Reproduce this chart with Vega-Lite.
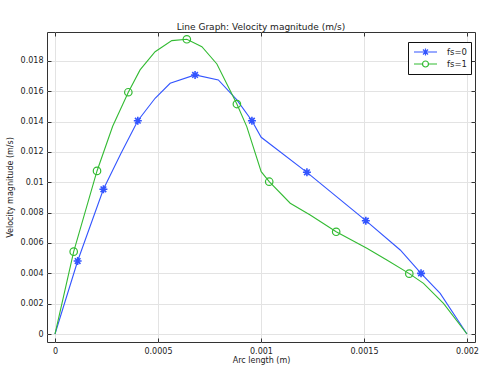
{
  "$schema": "https://vega.github.io/schema/vega-lite/v6.json",
  "width": 428,
  "height": 310,
  "autosize": {"type": "none"},
  "padding": {"left": 47, "top": 32, "right": 9, "bottom": 26},
  "background": "white",
  "title": {"text": "Line Graph: Velocity magnitude (m/s)", "font": "DejaVu Sans", "fontSize": 9, "fontWeight": "normal", "color": "#222", "offset": 0},
  "config": {
    "view": {"stroke": "#333", "strokeWidth": 1},
    "axis": {"labelFont": "DejaVu Sans", "labelFontSize": 8, "labelColor": "#222", "titleFont": "DejaVu Sans", "titleFontSize": 8, "titleFontWeight": "normal", "titleColor": "#222", "domain": false, "tickColor": "#333", "gridColor": "#e3e3e3"},
    "legend": {"title": null, "orient": "none", "legendX": 361, "legendY": 10, "strokeColor": "#111", "fillColor": "white", "padding": 4,
      "labelFont": "DejaVu Sans", "labelFontSize": 8.5, "labelColor": "#222", "symbolOffset": 7.5, "labelOffset": 15.5, "rowPadding": 0}
  },
  "data": {"values": [
    {"s": "fs=0", "x": 0, "y": 0, "m": 0},
    {"s": "fs=0", "x": 0.000110, "y": 0.00481, "m": 1},
    {"s": "fs=0", "x": 0.000235, "y": 0.00954, "m": 1},
    {"s": "fs=0", "x": 0.000320, "y": 0.01190, "m": 0},
    {"s": "fs=0", "x": 0.000402, "y": 0.01406, "m": 1},
    {"s": "fs=0", "x": 0.000486, "y": 0.01554, "m": 0},
    {"s": "fs=0", "x": 0.000559, "y": 0.01653, "m": 0},
    {"s": "fs=0", "x": 0.000680, "y": 0.01708, "m": 1},
    {"s": "fs=0", "x": 0.000793, "y": 0.01675, "m": 0},
    {"s": "fs=0", "x": 0.000883, "y": 0.01543, "m": 0},
    {"s": "fs=0", "x": 0.000956, "y": 0.01406, "m": 1},
    {"s": "fs=0", "x": 0.001001, "y": 0.01297, "m": 0},
    {"s": "fs=0", "x": 0.001223, "y": 0.01066, "m": 1},
    {"s": "fs=0", "x": 0.001509, "y": 0.00747, "m": 1},
    {"s": "fs=0", "x": 0.001676, "y": 0.00554, "m": 0},
    {"s": "fs=0", "x": 0.001777, "y": 0.00400, "m": 1},
    {"s": "fs=0", "x": 0.001870, "y": 0.00268, "m": 0},
    {"s": "fs=0", "x": 0.002, "y": 0, "m": 0},
    {"s": "fs=1", "x": 0, "y": 0, "m": 0},
    {"s": "fs=1", "x": 0.0000908, "y": 0.00543, "m": 1},
    {"s": "fs=1", "x": 0.000204, "y": 0.01075, "m": 1},
    {"s": "fs=1", "x": 0.000280, "y": 0.01370, "m": 0},
    {"s": "fs=1", "x": 0.000356, "y": 0.01594, "m": 1},
    {"s": "fs=1", "x": 0.000413, "y": 0.01741, "m": 0},
    {"s": "fs=1", "x": 0.000486, "y": 0.01861, "m": 0},
    {"s": "fs=1", "x": 0.000567, "y": 0.01934, "m": 0},
    {"s": "fs=1", "x": 0.000640, "y": 0.01943, "m": 1},
    {"s": "fs=1", "x": 0.000713, "y": 0.01894, "m": 0},
    {"s": "fs=1", "x": 0.000786, "y": 0.01780, "m": 0},
    {"s": "fs=1", "x": 0.000883, "y": 0.01516, "m": 1},
    {"s": "fs=1", "x": 0.000931, "y": 0.01367, "m": 0},
    {"s": "fs=1", "x": 0.001001, "y": 0.01070, "m": 0},
    {"s": "fs=1", "x": 0.001040, "y": 0.01004, "m": 1},
    {"s": "fs=1", "x": 0.001142, "y": 0.00862, "m": 0},
    {"s": "fs=1", "x": 0.001239, "y": 0.00785, "m": 0},
    {"s": "fs=1", "x": 0.001365, "y": 0.00674, "m": 1},
    {"s": "fs=1", "x": 0.001514, "y": 0.00565, "m": 0},
    {"s": "fs=1", "x": 0.001611, "y": 0.00488, "m": 0},
    {"s": "fs=1", "x": 0.001720, "y": 0.00398, "m": 1},
    {"s": "fs=1", "x": 0.001789, "y": 0.00334, "m": 0},
    {"s": "fs=1", "x": 0.001886, "y": 0.00202, "m": 0},
    {"s": "fs=1", "x": 0.002, "y": 0, "m": 0}
  ]},
  "resolve": {"axis": {"x": "independent", "y": "independent"}},
  "layer": [
    {
      "mark": {"type": "line", "strokeWidth": 1.1, "clip": true},
      "encoding": {
        "x": {"field": "x", "type": "quantitative", "scale": {"domain": [-0.0000388, 0.002039], "nice": false, "zero": false},
          "axis": {"orient": "bottom", "title": "Arc length (m)", "values": [0, 0.0005, 0.001, 0.0015, 0.002], "format": "~g", "tickSize": -4, "labelPadding": 9, "titlePadding": 1, "grid": true}},
        "y": {"field": "y", "type": "quantitative", "scale": {"domain": [-0.000527, 0.01991], "nice": false, "zero": false},
          "axis": {"orient": "left", "title": "Velocity magnitude (m/s)", "values": [0, 0.002, 0.004, 0.006, 0.008, 0.01, 0.012, 0.014, 0.016, 0.018], "format": "~g", "tickSize": -4, "labelPadding": 8, "titlePadding": 6, "grid": true}},
        "color": {"field": "s", "type": "nominal", "scale": {"domain": ["fs=0", "fs=1"], "range": ["#3355ff", "#33bb33"]},
          "legend": {
            "encode": {"symbols": {"update": {
              "shape": {"signal": "datum.value === 'fs=0' ? 'M-2.3,0H2.3M0,-0.7V0.7M-0.5,-0.5L0.5,0.5M-0.5,0.5L0.5,-0.5' : 'M-2.3,0H-0.6M0.6,0H2.3M0.6,0A0.6,0.6,0,1,1,-0.6,0A0.6,0.6,0,1,1,0.6,0'"},
              "size": {"value": 100}, "strokeWidth": {"value": 1.2}, "fill": {"value": "transparent"}}}}}},
        "detail": {"field": "s"}
      }
    },
    {
      "transform": [{"filter": "datum.m == 1 && datum.s == 'fs=0'"}],
      "mark": {"type": "point", "shape": "M-1,0H1M0,-1V1M-0.7,-0.7L0.7,0.7M-0.7,0.7L0.7,-0.7", "filled": false, "size": 64, "strokeWidth": 1.6, "opacity": 1, "clip": true},
      "encoding": {
        "x": {"field": "x", "type": "quantitative",
          "axis": {"orient": "top", "title": null, "labels": false, "values": [0, 0.0005, 0.001, 0.0015, 0.002], "tickSize": -4, "grid": false}},
        "y": {"field": "y", "type": "quantitative",
          "axis": {"orient": "right", "title": null, "labels": false, "values": [0, 0.002, 0.004, 0.006, 0.008, 0.01, 0.012, 0.014, 0.016, 0.018], "tickSize": -4, "grid": false}},
        "color": {"field": "s", "type": "nominal", "scale": {"domain": ["fs=0", "fs=1"], "range": ["#3355ff", "#33bb33"]}, "legend": null}
      }
    },
    {
      "transform": [{"filter": "datum.m == 1 && datum.s == 'fs=1'"}],
      "mark": {"type": "point", "shape": "circle", "filled": false, "size": 56, "strokeWidth": 1.2, "opacity": 1, "clip": true},
      "encoding": {
        "x": {"field": "x", "type": "quantitative", "axis": null},
        "y": {"field": "y", "type": "quantitative", "axis": null},
        "color": {"field": "s", "type": "nominal", "scale": {"domain": ["fs=0", "fs=1"], "range": ["#3355ff", "#33bb33"]}, "legend": null}
      }
    }
  ]
}
